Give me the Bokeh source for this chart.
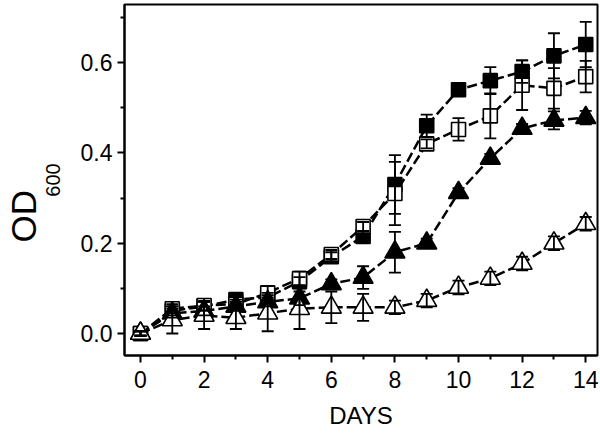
from bokeh.plotting import figure
from bokeh.models import ColumnDataSource, Whisker, TeeHead, FixedTicker, Range1d, Title
from bokeh.embed import file_html
from bokeh.resources import INLINE

days = list(range(15))
filled_sq = [0.0, 0.05, 0.06, 0.075, 0.08, 0.115, 0.17, 0.215, 0.33, 0.46, 0.54, 0.56, 0.58, 0.615, 0.64]
filled_sq_err = [0.005, 0.01, 0.01, 0.01, 0.01, 0.01, 0.01, 0.01, 0.065, 0.025, 0.005, 0.03, 0.025, 0.05, 0.05]
open_sq = [0.0, 0.055, 0.062, 0.065, 0.09, 0.122, 0.175, 0.237, 0.31, 0.42, 0.452, 0.482, 0.55, 0.543, 0.569]
open_sq_err = [0.005, 0.01, 0.01, 0.01, 0.015, 0.015, 0.01, 0.01, 0.07, 0.01, 0.025, 0.05, 0.055, 0.045, 0.035]
filled_tri = [0.0, 0.045, 0.05, 0.06, 0.07, 0.078, 0.11, 0.124, 0.18, 0.2, 0.312, 0.388, 0.454, 0.472, 0.478]
filled_tri_err = [0.005, 0.01, 0.01, 0.01, 0.01, 0.015, 0.01, 0.025, 0.045, 0.01, 0.01, 0.01, 0.01, 0.02, 0.015]
open_tri = [0.0, 0.03, 0.04, 0.035, 0.045, 0.055, 0.058, 0.058, 0.058, 0.073, 0.102, 0.122, 0.155, 0.2, 0.243]
open_tri_err = [0.005, 0.03, 0.03, 0.025, 0.04, 0.045, 0.035, 0.03, 0.015, 0.015, 0.015, 0.015, 0.015, 0.015, 0.015]

x_ticks = [0, 2, 4, 6, 8, 10, 12, 14]
x_minor = [1, 3, 5, 7, 9, 11, 13]
y_ticks = [0.0, 0.2, 0.4, 0.6]
y_tick_labels = ["0.0", "0.2", "0.4", "0.6"]
y_minor = [0.1, 0.3, 0.5, 0.7]

FONT = "Liberation Sans"
W, H = 600, 437
LEFT, RIGHT, TOP, BOTTOM = 124, 3, 4, 82

p = figure(width=W, height=H, output_backend="svg", toolbar_location=None,
           x_range=Range1d(-0.503, 14.37), y_range=Range1d(-0.0487, 0.7287))
p.min_border_left = LEFT
p.min_border_right = RIGHT
p.min_border_top = TOP
p.min_border_bottom = BOTTOM
p.grid.visible = False
p.outline_line_color = "black"
p.outline_line_width = 2
p.background_fill_color = "white"
p.border_fill_color = "white"

for ax in (p.xaxis[0], p.yaxis[0]):
    ax.axis_line_width = 2
    ax.axis_line_color = "black"
    ax.major_tick_in = 0
    ax.major_tick_out = 7
    ax.minor_tick_in = 0
    ax.minor_tick_out = 4
    ax.major_tick_line_width = 2
    ax.minor_tick_line_width = 2
    ax.major_label_text_font = FONT
    ax.major_label_text_font_size = "23px"
    ax.major_label_text_color = "black"
    ax.axis_label_text_font = FONT
    ax.axis_label_text_font_style = "normal"
    ax.axis_label_text_color = "black"

p.xaxis[0].ticker = FixedTicker(ticks=x_ticks, minor_ticks=x_minor)
p.yaxis[0].ticker = FixedTicker(ticks=y_ticks, minor_ticks=y_minor)
p.yaxis[0].major_label_overrides = {t: s for t, s in zip(y_ticks, y_tick_labels)}
p.xaxis[0].major_label_standoff = 8
p.yaxis[0].major_label_standoff = 5

p.xaxis[0].axis_label = "DAYS"
p.xaxis[0].axis_label_text_font_size = "24px"
p.xaxis[0].axis_label_standoff = 11

# subscript of the y title as the axis label, "OD" as an outer side title
p.yaxis[0].axis_label = "600"
p.yaxis[0].axis_label_text_font_size = "20px"
p.yaxis[0].axis_label_standoff = 18
p.add_layout(Title(text="OD", align="left", offset=113, standoff=0,
                   text_font=FONT, text_font_size="35px", text_font_style="normal",
                   text_color="black"), "left")

series = [
    (filled_sq, filled_sq_err, "square", "black", 14),
    (open_sq, open_sq_err, "square", "white", 14),
    (filled_tri, filled_tri_err, "triangle", "black", 20),
    (open_tri, open_tri_err, "triangle", "white", 20),
]

for vals, errs, marker, fill, size in series:
    src = ColumnDataSource(dict(x=days, y=vals,
                                lo=[v - e for v, e in zip(vals, errs)],
                                hi=[v + e for v, e in zip(vals, errs)]))
    p.line("x", "y", source=src, line_color="black", line_width=2.5, line_dash="10 4")
    p.scatter("x", "y", source=src, marker=marker, size=size, fill_color=fill,
              line_color="black", line_width=1.6)
    w = Whisker(source=src, base="x", lower="lo", upper="hi", dimension="height",
                line_color="black", line_width=1.8, level="annotation",
                upper_head=TeeHead(size=12, line_width=1.8, line_color="black"),
                lower_head=TeeHead(size=12, line_width=1.8, line_color="black"))
    p.add_layout(w)

open("out.html", "w").write(file_html(p, INLINE))
